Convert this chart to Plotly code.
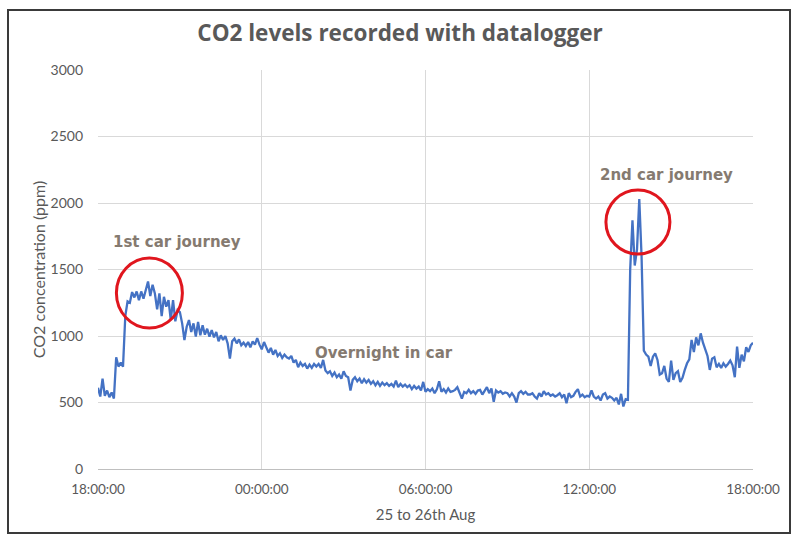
import pandas as pd
import plotly.graph_objects as go

# CO2 readings, one every 5 minutes from 18:00 on the 25th to 18:00 on the 26th
co2_h18_to_h23 = [
    610, 545, 680, 550, 590, 540, 575, 530, 840, 770, 800, 770,   # 18:00
    1150, 1260, 1250, 1330, 1290, 1335, 1270, 1335, 1280, 1350, 1410, 1300,  # 19:00
    1385, 1320, 1200, 1320, 1150, 1295, 1220, 1270, 1120, 1270, 1110, 1195,  # 20:00
    1180, 1095, 970, 1070, 1120, 1030, 1095, 995, 1105, 1005, 1080, 1010,  # 21:00
    1055, 995, 1045, 990, 1030, 960, 1005, 970, 1000, 945, 830, 960,  # 22:00
    980, 945, 975, 930, 950, 925, 955, 915, 960, 935, 985, 935,  # 23:00
]
co2_h00_to_h11 = [
    900, 955, 920, 875, 910, 860, 895, 850, 870, 835, 860, 840,  # 00:00
    830, 850, 800, 820, 765, 800, 775, 790, 755, 785, 760, 790,  # 01:00
    770, 790, 760, 820, 740, 720, 735, 700, 725, 690, 710, 680,  # 02:00
    735, 700, 690, 590, 670, 690, 660, 680, 645, 675, 650, 670,  # 03:00
    640, 660, 630, 655, 625, 650, 630, 645, 625, 640, 620, 665,  # 04:00
    615, 640, 620, 635, 615, 630, 600, 625, 605, 620, 590, 655,  # 05:00
    580, 600, 585, 605, 570, 600, 660, 580, 600, 575, 605, 580,  # 06:00
    585, 595, 615, 570, 530, 580, 570, 595, 570, 585, 565, 590,  # 07:00
    595, 560, 585, 615, 570, 605, 505, 590, 575, 585, 565, 575,  # 08:00
    570, 545, 570, 545, 500, 570, 585, 565, 580, 560, 560, 570,  # 09:00
    545, 530, 570, 545, 585, 560, 570, 550, 560, 545, 555, 570,  # 10:00
    540, 560, 495, 570, 540, 550, 580, 600, 545, 560, 540, 550,  # 11:00
]
co2_h12_to_h18 = [
    545, 590, 545, 530, 545, 515, 560, 570, 530, 545, 535, 515,  # 12:00
    535, 485, 565, 470, 525, 520, 1500, 1870, 1530, 1650, 2030, 1600,  # 13:00
    890, 860, 845, 775, 845, 870, 820, 710, 720, 775, 680, 655,  # 14:00
    815, 670, 720, 735, 655, 685, 745, 795, 825, 970, 880, 990,  # 15:00
    930, 1020, 950, 890, 850, 745, 830, 840, 765, 790, 760, 795,  # 16:00
    770, 790, 815, 780, 690, 920, 760, 860, 810, 915, 880, 930,  # 17:00
    950,
]
co2_ppm = co2_h18_to_h23 + co2_h00_to_h11 + co2_h12_to_h18
times = pd.date_range("2023-08-25 18:00", periods=len(co2_ppm), freq="5min")

y_ticks = [0, 500, 1000, 1500, 2000, 2500, 3000]

notes = [
    ("1st car journey", "2023-08-25 20:54", 1707),
    ("Overnight in car", "2023-08-26 04:28", 875),
    ("2nd car journey", "2023-08-26 14:49", 2211),
]
# circle centres and half sizes in pixels
circles = [("2023-08-25 19:53", 1323, 33, 35), ("2023-08-26 13:47", 1857, 32, 32)]

font = "Lato, 'Open Sans', sans-serif"
grey = "#595959"

fig = go.Figure()
fig.add_trace(go.Scatter(
    x=times, y=co2_ppm, mode="lines",
    line=dict(color="#4472c4", width=2.3),
    showlegend=False,
))

for txt, tx, ty in notes:
    fig.add_annotation(x=tx, y=ty, text="<b>" + txt + "</b>", showarrow=False,
                       font=dict(family="DejaVu Sans", size=15, color="#857a70"))

for cx, cy, rx, ry in circles:
    fig.add_shape(type="circle", xref="x", yref="y",
                  xsizemode="pixel", ysizemode="pixel",
                  xanchor=cx, yanchor=cy,
                  x0=-rx, x1=rx, y0=-ry, y1=ry,
                  line=dict(color="#e0161e", width=3))

# outer chart border (pixels 8..790 x 10..533 converted to paper units)
fig.add_shape(type="rect", xref="paper", yref="paper",
              x0=(8 - 98) / 655, x1=(790 - 98) / 655,
              y0=(469 - 533) / 399, y1=(469 - 10) / 399,
              line=dict(color="#3a3a3a", width=2))

fig.update_layout(
    width=800, height=545,
    margin=dict(l=98, r=47, t=70, b=76),
    paper_bgcolor="white", plot_bgcolor="white",
    font=dict(family=font, size=13, color=grey),
    title=dict(text="<b>CO2 levels recorded with datalogger</b>",
               x=0.5, xanchor="center", y=1 - 33 / 545, yanchor="middle",
               font=dict(family="Open Sans", size=22.5, color=grey)),
)
fig.update_xaxes(
    range=["2023-08-25 18:00", "2023-08-26 18:00"],
    tick0="2023-08-25 18:00", dtick=6 * 3600 * 1000,
    tickformat="%H:%M:%S", tickfont=dict(size=13.5),
    showgrid=True, gridcolor="#d9d9d9", gridwidth=1,
    showline=True, linecolor="#bfbfbf", linewidth=1,
    ticks="", ticklabelstandoff=8,
    title=dict(text="25 to 26th Aug", standoff=13,
               font=dict(family=font, size=15, color=grey)),
)
fig.update_yaxes(
    range=[0, 3000], tickvals=y_ticks, tickfont=dict(size=14),
    showgrid=True, gridcolor="#d9d9d9", gridwidth=1,
    zeroline=False, showline=False,
    ticks="", ticklabelstandoff=14,
    title=dict(text="CO2 concentration (ppm)", standoff=0,
               font=dict(family=font, size=16, color=grey)),
)

# the page body has a default 8px margin; drop it so the figure fills the window
fig.write_html("out.html", config={"displayModeBar": False},
               post_script="document.body.style.margin='0';")
